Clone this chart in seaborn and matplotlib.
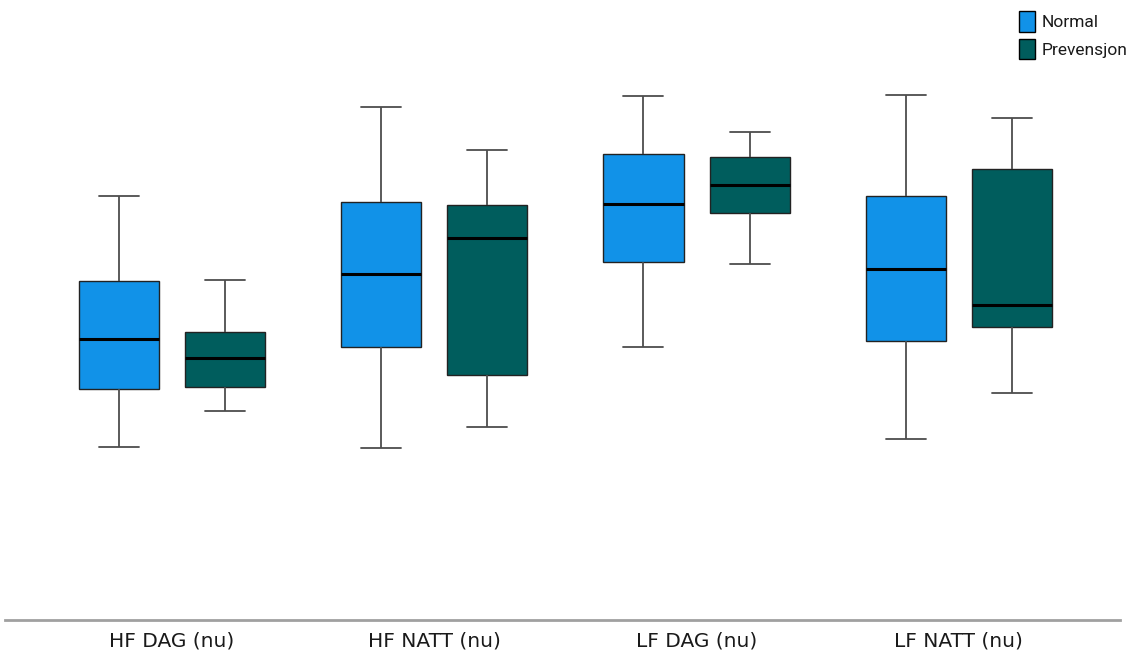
import matplotlib
matplotlib.use("Agg")
import matplotlib.pyplot as plt
import seaborn as sns
import pandas as pd

categories = ["HF DAG (nu)", "HF NATT (nu)", "LF DAG (nu)", "LF NATT (nu)"]
groups = ["Normal", "Prevensjon"]

# five-number summaries: min, Q1, median, Q3, max
normal_stats = [
    [24.8, 33.1, 40.3, 48.6, 60.8],
    [24.7, 39.2, 49.6, 60.0, 73.6],
    [39.2, 51.4, 59.7, 66.9, 75.2],
    [26.0, 40.0, 50.4, 60.8, 75.3],
]
prev_stats = [
    [30.0, 33.4, 37.6, 41.3, 48.8],
    [27.7, 35.2, 54.8, 59.5, 67.4],
    [51.1, 58.4, 62.4, 66.4, 70.0],
    [32.6, 42.0, 45.2, 64.7, 72.0],
]
colors = ["#1192e8", "#005d5d"]

rows = []
for cat, ns, ps in zip(categories, normal_stats, prev_stats):
    for v in ns:
        rows.append((cat, "Normal", v))
    for v in ps:
        rows.append((cat, "Prevensjon", v))
df = pd.DataFrame(rows, columns=["var", "group", "value"])

sns.set_style("white")
fig = plt.figure(figsize=(11.31, 6.55), dpi=100)
ax = fig.add_axes([0.0044, 0.0534, 0.9856, 0.9313])

sns.boxplot(data=df, x="var", y="value", hue="group", order=categories,
            hue_order=groups, palette=colors, whis=(0, 100), width=0.81,
            gap=0.245, saturation=1, ax=ax, linewidth=1.0, linecolor="black",
            medianprops=dict(color="black", linewidth=2.2),
            whiskerprops=dict(color="#4d4d4d", linewidth=1.3),
            capprops=dict(color="#4d4d4d", linewidth=1.3),
            boxprops=dict(edgecolor="#222222", linewidth=1.0))

ax.set_xlim(-0.636, 3.613)
ax.set_ylim(0, 87.5)
ax.set_xlabel("")
ax.set_ylabel("")
ax.set_yticks([])
for s in ["top", "right", "left"]:
    ax.spines[s].set_visible(False)
ax.spines["bottom"].set_color("#a0a0a0")
ax.spines["bottom"].set_linewidth(2)
ax.tick_params(axis="x", length=0, pad=8)
for lab in ax.get_xticklabels():
    lab.set_fontfamily("DejaVu Sans")
    lab.set_fontsize(14.5)
    lab.set_color("#1a1a1a")

handles, labels = ax.get_legend_handles_labels()
if ax.get_legend() is not None:
    ax.get_legend().remove()
leg = fig.legend(handles, labels, loc="upper right", bbox_to_anchor=(0.9965, 0.983),
                 frameon=False, handlelength=0.92, handleheight=1.45,
                 handletextpad=0.35, labelspacing=0.4, borderpad=0.0,
                 borderaxespad=0.0,
                 prop={"family": "Roboto", "size": 12.5})
for h in leg.legend_handles:
    h.set_edgecolor("black")
    h.set_linewidth(1.0)
for t in leg.get_texts():
    t.set_color("#1a1a1a")

fig.savefig("out.png", dpi=100)
